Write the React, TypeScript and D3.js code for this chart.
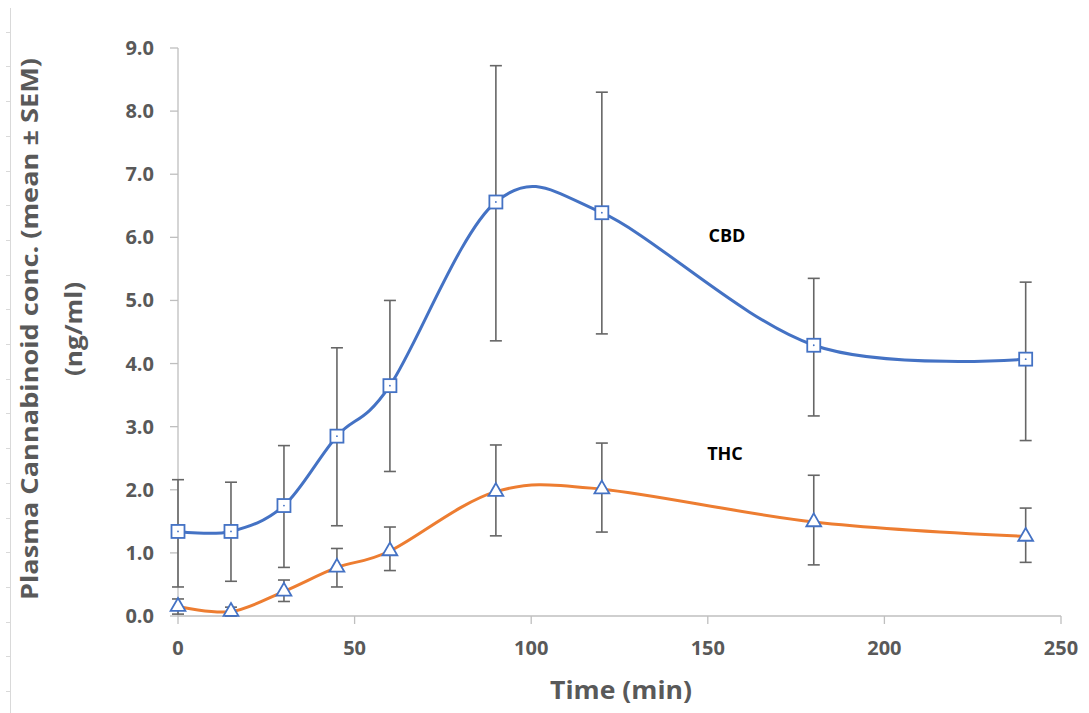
import React from "react";
import * as d3 from "d3";

const width = 1089;
const height = 713;

// sampling times (min)
const times = [0, 15, 30, 45, 60, 90, 120, 180, 240];

// CBD plasma concentration, mean and error bar ends (ng/ml)
const cbdMean = [1.34, 1.34, 1.75, 2.85, 3.65, 6.56, 6.39, 4.29, 4.07];
const cbdHigh = [2.16, 2.12, 2.7, 4.25, 5.0, 8.72, 8.3, 5.35, 5.29];
const cbdLow = [0.46, 0.55, 0.77, 1.43, 2.29, 4.36, 4.47, 3.17, 2.78];

// THC plasma concentration
const thcMean = [0.15, 0.07, 0.39, 0.77, 1.03, 1.97, 2.01, 1.49, 1.26];
const thcHigh = [0.27, 0.14, 0.57, 1.07, 1.41, 2.71, 2.74, 2.23, 1.71];
const thcLow = [0.03, 0.0, 0.23, 0.46, 0.72, 1.27, 1.33, 0.81, 0.85];

const xTicks = [0, 50, 100, 150, 200, 250];
const yTicks = [0, 1, 2, 3, 4, 5, 6, 7, 8, 9];

const FONT = "'Open Sans', 'DejaVu Sans', sans-serif";
const TEXT_GRAY = "#595959";
const AXIS_GRAY = "#BFBFBF";
const BLUE = "#4472C4";
const ORANGE = "#ED7D31";

const margin = { left: 178, right: 1061, top: 48, bottom: 616 };

const x = d3.scaleLinear().domain([0, 250]).range([margin.left, margin.right]);
const y = d3.scaleLinear().domain([0, 9]).range([margin.bottom, margin.top]);

type Pt = { t: number; v: number; hi: number; lo: number };

const makeSeries = (mean: number[], hi: number[], lo: number[]): Pt[] =>
  times.map((t, i) => ({ t, v: mean[i], hi: hi[i], lo: lo[i] }));

const cbd = makeSeries(cbdMean, cbdHigh, cbdLow);
const thc = makeSeries(thcMean, thcHigh, thcLow);

const smooth = d3
  .line<Pt>()
  .x((d) => x(d.t))
  .y((d) => y(d.v))
  .curve(d3.curveCardinal.tension(0));

const ErrorBars = ({ data }: { data: Pt[] }) => (
  <g stroke="#666666" strokeWidth={1.6} fill="none">
    {data.map((d, i) => (
      <g key={i}>
        <line x1={x(d.t)} x2={x(d.t)} y1={y(d.hi)} y2={y(d.lo)} />
        <line x1={x(d.t) - 6} x2={x(d.t) + 6} y1={y(d.hi)} y2={y(d.hi)} />
        <line x1={x(d.t) - 6} x2={x(d.t) + 6} y1={y(d.lo)} y2={y(d.lo)} />
      </g>
    ))}
  </g>
);

const triangle = d3.symbol().type(d3.symbolTriangle).size(95);

export default function App() {
  // faint ruler on the far left of the screenshot
  const rulerTicks = d3.range(31.7, height, 34.7);

  return (
    <svg
      width={width}
      height={height}
      style={{ position: "absolute", left: 0, top: 0, background: "#FFFFFF" }}
    >
      <rect width={width} height={height} fill="#FFFFFF" />

      {/* ruler */}
      <g stroke="#D9D9D9" strokeWidth={1}>
        <line x1={10.5} x2={10.5} y1={8} y2={height} />
        {rulerTicks.map((ty, i) => (
          <line key={i} x1={6} x2={10.5} y1={Math.round(ty) + 0.5} y2={Math.round(ty) + 0.5} />
        ))}
      </g>

      {/* axes */}
      <g stroke={AXIS_GRAY} strokeWidth={1.3}>
        <line x1={margin.left} x2={margin.left} y1={margin.top} y2={margin.bottom} />
        <line x1={margin.left} x2={margin.right} y1={margin.bottom} y2={margin.bottom} />
        {yTicks.map((t) => (
          <line key={t} x1={margin.left - 8} x2={margin.left} y1={y(t)} y2={y(t)} />
        ))}
        {xTicks.map((t) => (
          <line key={t} x1={x(t)} x2={x(t)} y1={margin.bottom} y2={margin.bottom + 8} />
        ))}
      </g>

      <g fill={TEXT_GRAY} fontFamily={FONT} fontWeight={700} fontSize={20}>
        {yTicks.map((t) => (
          <text key={t} x={margin.left - 24} y={y(t) + 7} textAnchor="end">
            {d3.format(".1f")(t)}
          </text>
        ))}
        {xTicks.map((t) => (
          <text key={t} x={x(t)} y={margin.bottom + 39} textAnchor="middle">
            {t}
          </text>
        ))}
      </g>

      {/* axis titles */}
      <text
        x={621}
        y={699}
        textAnchor="middle"
        fill={TEXT_GRAY}
        fontFamily={FONT}
        fontWeight={700}
        fontSize={25}
        textLength={142}
        lengthAdjust="spacingAndGlyphs"
      >
        Time (min)
      </text>
      <g
        transform="translate(0,329) rotate(-90)"
        fill={TEXT_GRAY}
        fontFamily={FONT}
        fontWeight={700}
        fontSize={23}
        textAnchor="middle"
      >
        <text x={0} y={38} textLength={542} lengthAdjust="spacingAndGlyphs">
          Plasma Cannabinoid conc. (mean ± SEM)
        </text>
        <text x={0} y={82} textLength={94} lengthAdjust="spacingAndGlyphs">
          (ng/ml)
        </text>
      </g>

      <ErrorBars data={cbd} />
      <ErrorBars data={thc} />

      <path d={smooth(cbd) ?? ""} fill="none" stroke={BLUE} strokeWidth={3} />
      <path d={smooth(thc) ?? ""} fill="none" stroke={ORANGE} strokeWidth={3} />

      {/* CBD markers */}
      {cbd.map((d, i) => (
        <g key={i} transform={`translate(${x(d.t)},${y(d.v)})`}>
          <rect x={-6.5} y={-6.5} width={13} height={13} fill="#FFFFFF" stroke={BLUE} strokeWidth={1.8} />
          <circle r={0.9} fill={BLUE} />
        </g>
      ))}

      {/* THC markers */}
      {thc.map((d, i) => (
        <path
          key={i}
          d={triangle() ?? ""}
          transform={`translate(${x(d.t)},${y(d.v)})`}
          fill="#FFFFFF"
          stroke={BLUE}
          strokeWidth={1.8}
        />
      ))}

      <g fill="#000000" fontFamily={FONT} fontWeight={700} fontSize={18} textAnchor="middle">
        <text x={727} y={242}>CBD</text>
        <text x={725} y={460}>THC</text>
      </g>
    </svg>
  );
}
